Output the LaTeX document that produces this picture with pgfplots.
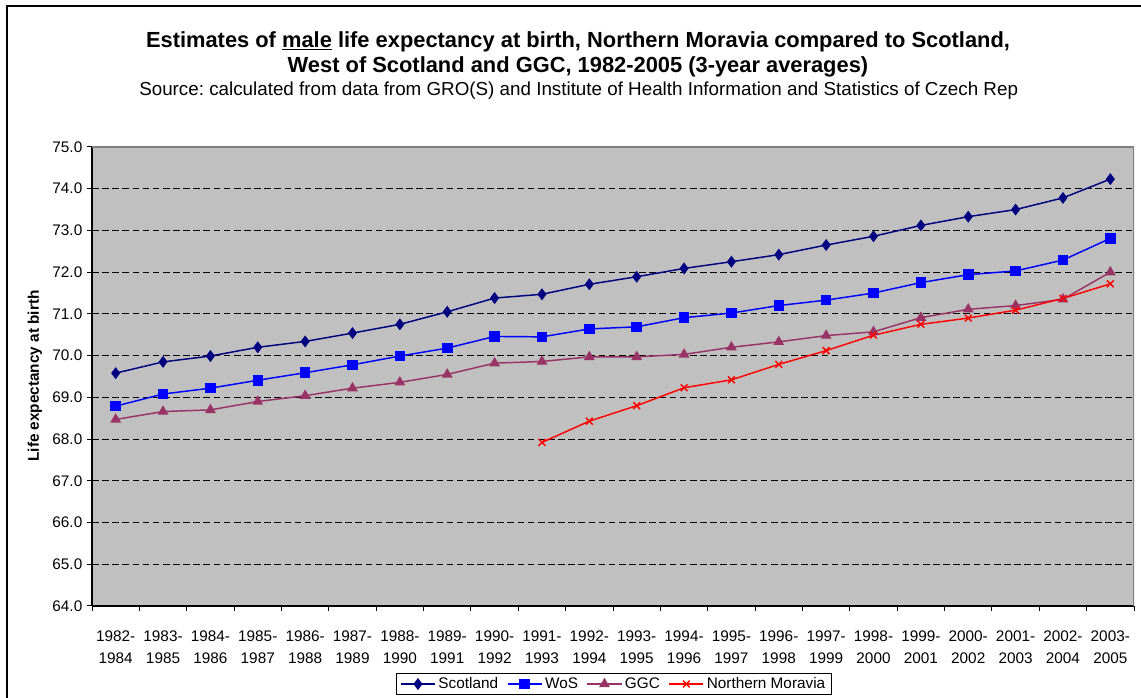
\documentclass[border=0pt]{standalone}
\usepackage{fontspec}
\setmainfont{Liberation Sans}
\usepackage{pgfplots}
\usepackage{pgfplotstable}
\pgfplotsset{compat=1.18}
\frenchspacing

\definecolor{scot}{HTML}{000080}
\definecolor{wos}{HTML}{0000FF}
\definecolor{ggc}{HTML}{993366}
\definecolor{nmor}{HTML}{FF0000}
\definecolor{plotbg}{HTML}{C0C0C0}

% index 0 = 1982-1984 ... 21 = 2003-2005
\pgfplotstableread{
idx scotland wos   ggc   nmoravia
0   69.58    68.79 68.47 nan
1   69.85    69.08 68.66 nan
2   69.99    69.22 68.70 nan
3   70.20    69.41 68.90 nan
4   70.34    69.59 69.04 nan
5   70.54    69.78 69.22 nan
6   70.75    69.99 69.36 nan
7   71.05    70.18 69.55 nan
8   71.38    70.46 69.82 nan
9   71.47    70.45 69.86 67.92
10  71.71    70.64 69.97 68.43
11  71.89    70.69 69.97 68.80
12  72.09    70.91 70.03 69.23
13  72.25    71.02 70.20 69.42
14  72.42    71.20 70.33 69.79
15  72.65    71.33 70.48 70.12
16  72.86    71.50 70.57 70.49
17  73.12    71.75 70.91 70.75
18  73.33    71.94 71.11 70.90
19  73.50    72.03 71.20 71.09
20  73.78    72.29 71.35 71.37
21  74.23    72.81 72.00 71.72
}\lifeexp

\begin{document}
\begin{tikzpicture}
\path[use as bounding box] (0,0) rectangle (855.75pt,523.5pt);
% chart frame
\draw[line width=1.1pt] (5.25pt,-2pt) -- (5.25pt,519pt) -- (858pt,519pt);

\node[font=\fontsize{16.4}{19}\selectfont\bfseries] at (433.5pt,492pt)
  {Estimates of \underline{male} life expectancy at birth, Northern Moravia compared to Scotland,};
\node[font=\fontsize{16.4}{19}\selectfont\bfseries] at (433.5pt,473.25pt)
  {West of Scotland and GGC, 1982-2005 (3-year averages)};
\node[font=\fontsize{14.1}{16}\selectfont] at (434pt,455.5pt)
  {Source: calculated from data from GRO(S) and Institute of Health Information and Statistics of Czech Rep};
\node[font=\fontsize{11.5}{13}\selectfont\bfseries, rotate=90] at (26.25pt,241.5pt)
  {Life expectancy at birth};

\begin{axis}[
  at={(69pt,69pt)}, anchor=south west,
  scale only axis,
  width=781.5pt, height=344.25pt,
  xmin=-0.5, xmax=21.5,
  ymin=64, ymax=75,
  ytick={64,65,...,75},
  xtick={-0.5,0.5,...,21.5},
  xticklabels={1982-\\1984,1983-\\1985,1984-\\1986,1985-\\1987,1986-\\1988,
    1987-\\1989,1988-\\1990,1989-\\1991,1990-\\1992,1991-\\1993,1992-\\1994,
    1993-\\1995,1994-\\1996,1995-\\1997,1996-\\1998,1997-\\1999,1998-\\2000,
    1999-\\2001,2000-\\2002,2001-\\2003,2002-\\2004,2003-\\2005,{}},
  xticklabel style={align=center, xshift=17.76pt, yshift=-11pt,
    font=\fontsize{11.5}{16.5}\selectfont},
  yticklabel style={font=\fontsize{11.5}{13}\selectfont},
  /pgf/number format/.cd, fixed, fixed zerofill, precision=1,
    assume math mode=true,
  /pgfplots/.cd,
  tick align=outside,
  major tick length=3.75pt,
  tick style={black, line width=0.75pt},
  axis lines*=left,
  axis line style={-, black, line width=0.9pt},
  axis background/.style={fill=plotbg},
  ymajorgrids,
  major grid style={black, line width=0.7pt, dash pattern=on 5pt off 2.6pt},
  unbounded coords=jump,
  legend columns=4,
  legend style={at={(0.501,-0.170)}, anchor=center, draw=black,
    line width=0.75pt, font=\fontsize{11.5}{13}\selectfont,
    inner xsep=3pt, inner ysep=1pt,
    /tikz/every even column/.append style={column sep=4.5pt}},
  legend image code/.code={
    \draw[mark repeat=2, mark phase=2] plot coordinates {(0cm,0cm) (0.45cm,0cm) (0.9cm,0cm)};},
]
\draw[gray, line width=1.1pt] (rel axis cs:0,1) -- (rel axis cs:1,1) -- (rel axis cs:1,0);

\addplot[scot, line width=1.1pt, mark=diamond*, mark size=3.6pt,
  mark options={solid}] table[x=idx, y=scotland] {\lifeexp};
\addlegendentry{Scotland}
\addplot[wos, line width=1.1pt, mark=square*, mark size=3.4pt]
  table[x=idx, y=wos] {\lifeexp};
\addlegendentry{WoS}
\addplot[ggc, line width=1.1pt, mark=triangle*, mark size=3.6pt]
  table[x=idx, y=ggc] {\lifeexp};
\addlegendentry{GGC}
\addplot[nmor, line width=1.1pt, mark=x, mark size=3.6pt]
  table[x=idx, y=nmoravia] {\lifeexp};
\addlegendentry{Northern Moravia}
\end{axis}
\end{tikzpicture}
\end{document}
